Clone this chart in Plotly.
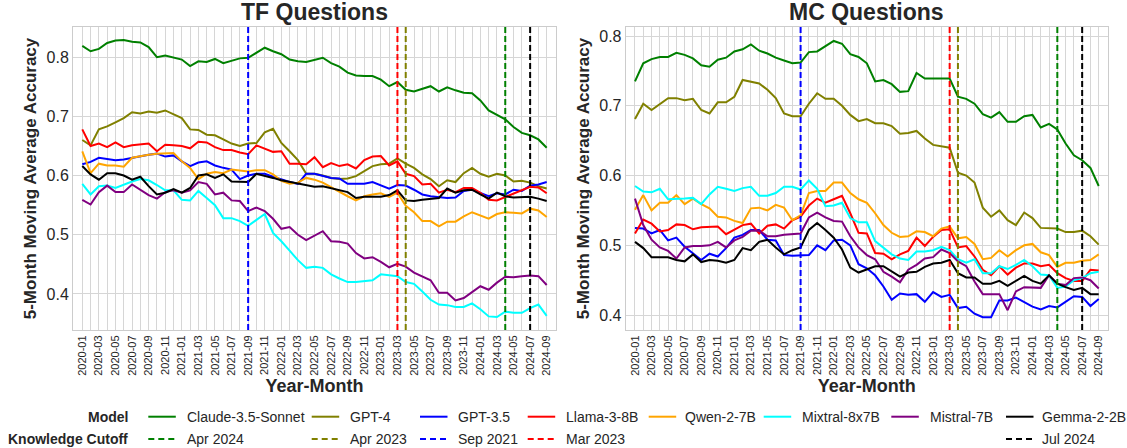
import plotly.graph_objects as go
from plotly.subplots import make_subplots

# meses 2020-01 .. 2024-09
months = [f"{y}-{m:02d}" for y in range(2020, 2025) for m in range(1, 13)][:57]

# TF Questions (media movel 5 meses)
tf_claude = [.819,.810,.814,.824,.828,.829,.826,.825,.817,.800,
             .803,.799,.796,.785,.793,.792,.797,.790,.794,.798,
             .799,.807,.816,.810,.805,.796,.793,.792,.795,.799,
             .790,.784,.774,.769,.768,.768,.762,.751,.758,.745,
             .742,.746,.751,.742,.749,.744,.740,.739,.727,.710,
             .703,.695,.682,.672,.668,.661,.647]
tf_gpt4 = [.660,.651,.678,.683,.690,.697,.707,.705,.708,.706,
           .710,.703,.697,.678,.677,.669,.668,.661,.654,.650,
           .654,.655,.673,.679,.655,.641,.626,.603,.603,.600,
           .596,.594,.595,.599,.607,.616,.619,.620,.629,.620,
           .613,.602,.594,.582,.592,.589,.604,.613,.603,.598,
           .603,.600,.590,.591,.588,.582,.578]
tf_gpt35 = [.619,.623,.630,.628,.626,.627,.630,.633,.635,.637,
            .632,.634,.624,.616,.622,.624,.617,.613,.610,.594,
            .600,.603,.603,.598,.593,.589,.586,.603,.603,.600,
            .596,.595,.586,.586,.586,.589,.584,.578,.584,.583,
            .576,.568,.565,.563,.562,.563,.574,.576,.571,.565,
            .570,.568,.576,.574,.583,.585,.589]
tf_llama = [.678,.650,.654,.648,.656,.648,.651,.652,.654,.641,
            .652,.651,.650,.646,.657,.656,.648,.643,.643,.639,
            .636,.651,.645,.640,.641,.620,.620,.619,.631,.614,
            .621,.616,.619,.612,.626,.632,.633,.617,.624,.603,
            .599,.585,.586,.571,.576,.572,.579,.579,.571,.559,
            .558,.564,.570,.575,.581,.580,.570]
tf_qwen = [.641,.604,.620,.617,.617,.615,.630,.633,.635,.637,
           .637,.638,.624,.613,.594,.603,.606,.604,.610,.609,
           .607,.609,.609,.602,.591,.586,.588,.596,.593,.588,
           .580,.572,.565,.558,.565,.568,.570,.564,.571,.549,
           .538,.523,.523,.514,.522,.522,.531,.538,.532,.527,
           .535,.538,.537,.536,.544,.541,.530]
tf_mixtral = [.586,.568,.582,.583,.579,.585,.590,.594,.592,.584,
              .575,.575,.559,.558,.574,.562,.550,.528,.528,.523,
              .515,.525,.535,.503,.489,.473,.457,.444,.446,.444,
              .433,.426,.420,.420,.422,.423,.433,.431,.430,.420,
              .417,.404,.390,.382,.381,.378,.378,.384,.374,.362,
              .361,.370,.368,.368,.376,.382,.363]
tf_mistral = [.559,.551,.572,.583,.572,.572,.585,.576,.567,.561,
              .572,.575,.571,.575,.589,.586,.568,.571,.558,.557,
              .540,.546,.540,.527,.510,.513,.500,.491,.499,.506,
              .489,.488,.485,.469,.460,.462,.454,.445,.451,.446,
              .436,.430,.423,.402,.402,.389,.393,.403,.413,.407,
              .419,.429,.428,.430,.431,.430,.415]
tf_gemma = [.616,.602,.593,.604,.604,.600,.593,.598,.582,.568,
            .571,.577,.571,.579,.600,.602,.596,.602,.590,.589,
            .589,.603,.600,.596,.592,.589,.586,.584,.581,.582,
            .579,.576,.572,.562,.564,.564,.564,.567,.575,.558,
            .557,.559,.561,.562,.578,.571,.575,.576,.568,.561,
            .571,.565,.563,.564,.564,.561,.557]

# MC Questions
mc_claude = [.735,.761,.767,.770,.770,.776,.773,.768,.758,.756,
             .766,.769,.778,.781,.788,.779,.775,.769,.765,.761,
             .762,.777,.778,.786,.793,.789,.774,.770,.761,.735,
             .737,.731,.720,.721,.747,.739,.739,.740,.739,.713,
             .710,.703,.688,.683,.691,.677,.677,.685,.687,.669,
             .674,.666,.646,.629,.622,.611,.585]
mc_gpt4 = [.681,.703,.694,.703,.711,.711,.708,.710,.694,.689,
           .705,.705,.713,.737,.734,.732,.723,.711,.689,.685,
           .685,.703,.718,.710,.710,.700,.687,.678,.681,.675,
           .675,.671,.660,.661,.664,.653,.644,.642,.640,.604,
           .600,.590,.554,.541,.550,.536,.529,.547,.539,.525,
           .525,.524,.519,.519,.521,.513,.501]
mc_gpt35 = [.525,.524,.517,.522,.507,.511,.498,.488,.479,.488,
            .484,.496,.511,.515,.522,.522,.508,.507,.486,.485,
            .485,.486,.500,.493,.507,.508,.500,.473,.467,.457,
            .441,.422,.431,.429,.430,.419,.433,.426,.429,.410,
            .412,.402,.397,.397,.421,.421,.425,.419,.412,.408,
            .413,.411,.419,.427,.426,.413,.423]
mc_llama = [.517,.537,.531,.520,.522,.530,.529,.523,.526,.526,
            .527,.516,.522,.529,.531,.517,.528,.530,.524,.536,
            .541,.557,.567,.561,.566,.571,.546,.518,.517,.489,
            .488,.480,.487,.492,.511,.499,.512,.522,.523,.497,
            .499,.484,.465,.457,.470,.458,.468,.474,.474,.470,
            .472,.460,.453,.449,.449,.465,.464]
mc_qwen = [.551,.572,.550,.561,.561,.572,.559,.567,.559,.553,
           .541,.540,.535,.532,.553,.554,.550,.558,.554,.536,
           .543,.575,.578,.578,.590,.590,.575,.566,.561,.546,
           .529,.518,.512,.513,.520,.519,.513,.524,.527,.510,
           .512,.502,.480,.482,.493,.484,.493,.500,.502,.490,
           .486,.469,.475,.475,.478,.479,.487]
mc_mixtral = [.585,.577,.576,.581,.566,.566,.567,.568,.559,.573,
              .584,.581,.578,.582,.584,.571,.571,.575,.584,.584,
              .580,.593,.581,.556,.557,.561,.539,.533,.533,.506,
              .497,.487,.481,.479,.491,.491,.493,.498,.493,.480,
              .475,.480,.460,.460,.470,.466,.472,.479,.470,.458,
              .457,.439,.441,.450,.453,.460,.462]
mc_mistral = [.567,.529,.508,.497,.492,.481,.497,.499,.499,.500,
              .505,.497,.507,.512,.521,.521,.513,.513,.515,.516,
              .517,.540,.547,.540,.535,.534,.513,.497,.486,.480,
              .462,.455,.447,.465,.472,.481,.483,.494,.489,.477,
              .470,.448,.430,.430,.430,.407,.434,.440,.440,.439,
              .457,.445,.443,.453,.454,.450,.438]
mc_gemma = [.505,.496,.483,.483,.483,.479,.477,.487,.476,.479,
            .478,.475,.479,.496,.493,.505,.508,.497,.487,.493,
            .497,.522,.532,.522,.511,.494,.468,.461,.465,.470,
            .470,.462,.455,.461,.462,.469,.474,.475,.479,.460,
            .454,.454,.445,.445,.449,.442,.449,.456,.449,.445,
            .457,.445,.440,.436,.439,.430,.430]

model_names = ["Claude-3.5-Sonnet", "GPT-4", "GPT-3.5", "Llama-3-8B",
               "Qwen-2-7B", "Mixtral-8x7B", "Mistral-7B", "Gemma-2-2B"]
model_colors = ["#008000", "#808000", "#0000ff", "#ff0000",
                "#ffa500", "#00ffff", "#800080", "#000000"]
tf_series = [tf_claude, tf_gpt4, tf_gpt35, tf_llama, tf_qwen, tf_mixtral, tf_mistral, tf_gemma]
mc_series = [mc_claude, mc_gpt4, mc_gpt35, mc_llama, mc_qwen, mc_mixtral, mc_mistral, mc_gemma]

# knowledge cutoffs (coluna da legenda, rotulo, mes)
cutoff_cols = [0, 1, 2, 3, 7]
cutoff_labels = ["Apr 2024", "Apr 2023", "Sep 2021", "Mar 2023", "Jul 2024"]
cutoff_months = ["2024-04", "2023-04", "2021-09", "2023-03", "2024-07"]

W, H = 1127, 448
ML, MR, MT, MB = 73, 19, 27, 118
FONT = "Liberation Sans, Arial, sans-serif"
TXT = "#262626"
GRID = "#d6d6d6"

x_idx = list(range(len(months)))

fig = make_subplots(rows=1, cols=2)

for col, series in [(1, tf_series), (2, mc_series)]:
    for name, color, vals in zip(model_names, model_colors, series):
        fig.add_trace(go.Scatter(
            x=x_idx, y=vals, mode="lines", name=name,
            line=dict(color=color, width=2),
            customdata=months,
            hovertemplate="%{customdata}: %{y:.3f}<extra>" + name + "</extra>",
            showlegend=False,
        ), row=1, col=col)
    for c, m in zip(cutoff_cols, cutoff_months):
        fig.add_vline(x=months.index(m), line=dict(color=model_colors[c], width=2, dash="6px,3px"),
                      row=1, col=col)

pw = W - ML - MR
ph = H - MT - MB


# converte posicao em pixels da tela para coordenadas "paper"
def px_x(p):
    return (p - ML) / pw


def px_y(p):
    return (H - MB - p) / ph


tickvals = x_idx
ticktext = [m if i % 2 == 0 else "" for i, m in enumerate(months)]

axis_common = dict(showline=True, linecolor="#cccccc", linewidth=1, mirror=True,
                   showgrid=True, gridcolor=GRID, gridwidth=1, zeroline=False, ticks="")

for col, dom in [(1, [0, px_x(556)]), (2, [px_x(625.7), 1])]:
    fig.update_xaxes(domain=dom, range=[-1.12, 57.12], tickmode="array",
                     tickvals=tickvals, ticktext=ticktext, tickangle=-90,
                     tickfont=dict(size=11, color=TXT, family=FONT),
                     title=dict(text="<b>Year-Month</b>", font=dict(size=18, color=TXT, family=FONT), standoff=4),
                     row=1, col=col, **axis_common)

fig.update_yaxes(range=[0.339, 0.851], tickvals=[0.4, 0.5, 0.6, 0.7, 0.8], row=1, col=1, **axis_common)
fig.update_yaxes(range=[0.3786, 0.813], tickvals=[0.4, 0.5, 0.6, 0.7, 0.8], row=1, col=2, **axis_common)
fig.update_yaxes(tickformat=".1f", tickfont=dict(size=16, color=TXT, family=FONT),
                 title=dict(text="<b>5-Month Moving Average Accuracy</b>",
                            font=dict(size=17, color=TXT, family=FONT), standoff=5))

annotations = []
# titulos
for cx, t in [((73 + 556) / 2, "TF Questions"), ((625.7 + 1108) / 2, "MC Questions")]:
    annotations.append(dict(x=px_x(cx), y=px_y(12), xref="paper", yref="paper",
                            text=f"<b>{t}</b>", showarrow=False, xanchor="center", yanchor="middle",
                            font=dict(size=23, color=TXT, family=FONT)))

# legenda manual
row1, row2 = 416.7, 439
col_handles = [148.3, 311.7, 420, 527.7, 648.7, 763.7, 891.3, 1006]
col_texts = [185, 348.3, 456, 564.3, 682.7, 800.3, 928, 1040.3]
handle_len = 27.5

for lbl, ry in [("Model", row1), ("Knowledge Cutoff", row2)]:
    annotations.append(dict(x=px_x(130), y=px_y(ry), xref="paper", yref="paper",
                            text=f"<b>{lbl}</b>", showarrow=False, xanchor="right", yanchor="middle",
                            font=dict(size=14, color=TXT, family=FONT)))

shapes = []
for i, (name, color) in enumerate(zip(model_names, model_colors)):
    x0 = col_handles[i]
    shapes.append(dict(type="line", xref="paper", yref="paper",
                       x0=px_x(x0), x1=px_x(x0 + handle_len), y0=px_y(row1), y1=px_y(row1),
                       line=dict(color=color, width=2)))
    annotations.append(dict(x=px_x(col_texts[i]), y=px_y(row1), xref="paper", yref="paper",
                            text=name, showarrow=False, xanchor="left", yanchor="middle",
                            font=dict(size=14, color=TXT, family=FONT)))

for c, lbl in zip(cutoff_cols, cutoff_labels):
    x0 = col_handles[c]
    shapes.append(dict(type="line", xref="paper", yref="paper",
                       x0=px_x(x0), x1=px_x(x0 + handle_len), y0=px_y(row2), y1=px_y(row2),
                       line=dict(color=model_colors[c], width=2, dash="6px,4px")))
    annotations.append(dict(x=px_x(col_texts[c]), y=px_y(row2), xref="paper", yref="paper",
                            text=lbl, showarrow=False, xanchor="left", yanchor="middle",
                            font=dict(size=14, color=TXT, family=FONT)))

fig.update_layout(
    width=W, height=H,
    margin=dict(l=ML, r=MR, t=MT, b=MB),
    paper_bgcolor="white", plot_bgcolor="white",
    font=dict(family=FONT, color=TXT),
    showlegend=False,
    annotations=annotations,
    shapes=list(fig.layout.shapes) + shapes,
)

# tira a margem padrao do body para a figura ocupar a janela inteira
fig.write_html("out.html", config={"displayModeBar": False},
               post_script="document.body.style.margin='0';")
